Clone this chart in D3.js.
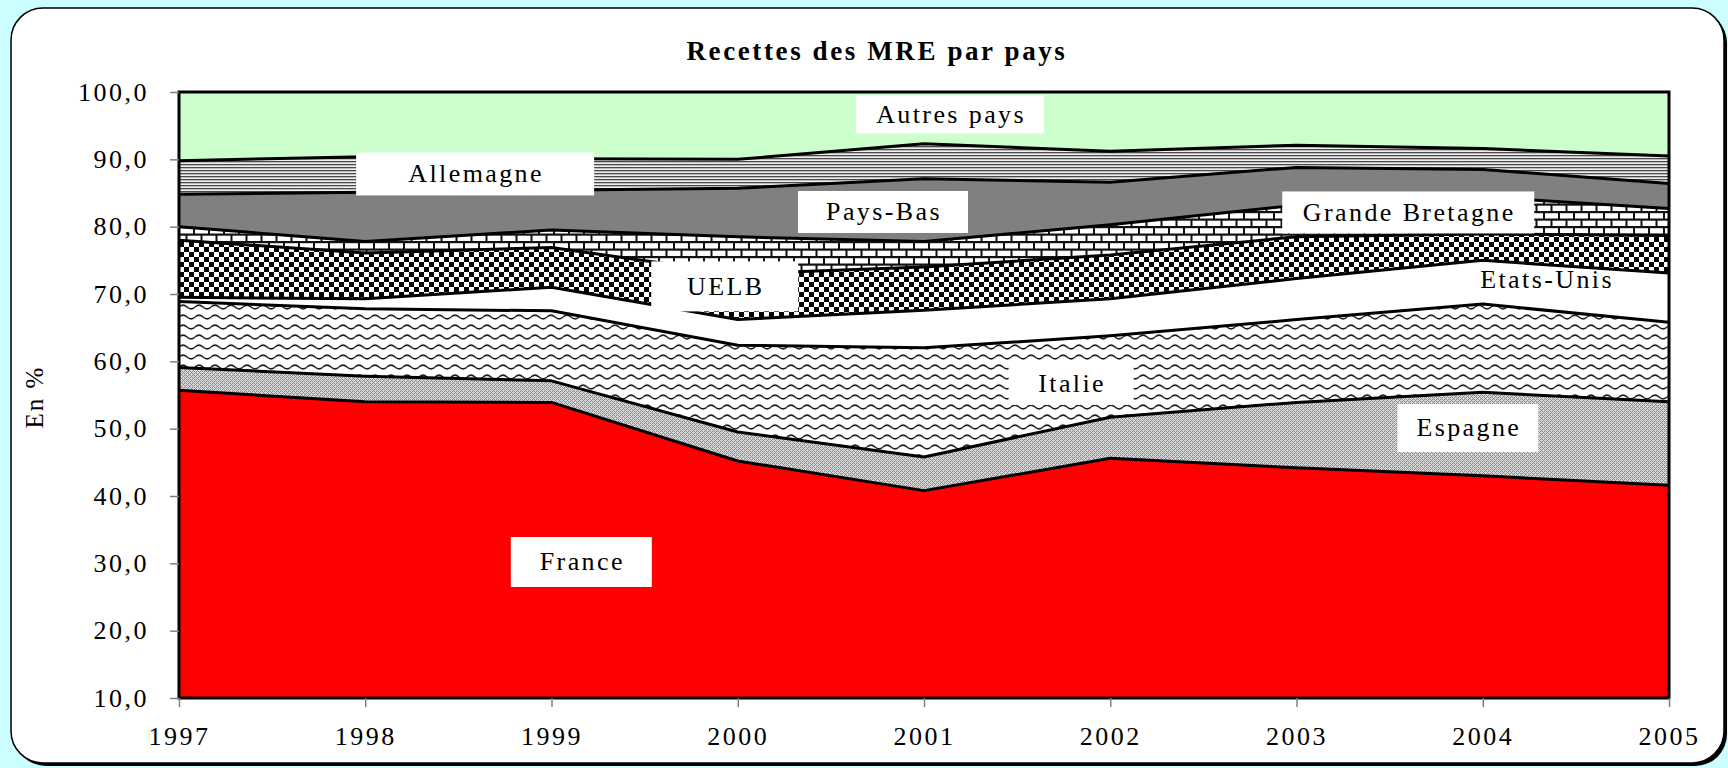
<!DOCTYPE html>
<html lang="fr">
<head>
<meta charset="UTF-8">
<title>Recettes des MRE par pays</title>
<style>
  body { margin: 0; background: #ccffff; }
  svg { display: block; font-family: "Liberation Serif", "Times New Roman", serif; }
</style>
</head>
<body>
<svg width="1728" height="768"></svg>
<script src="https://d3js.org/d3.v7.min.js"></script>
<script>
// parts (en %), stacked from the bottom up
const years          = [1997, 1998, 1999, 2000, 2001, 2002, 2003, 2004, 2005];
const france         = [55.7, 54.0, 53.9, 45.2, 40.8, 45.6, 44.2, 43.0, 41.6];
const espagne        = [3.4, 3.8, 3.2, 4.3, 5.0, 6.1, 9.7, 12.4, 12.4];
const italie         = [9.8, 10.0, 10.4, 12.9, 16.2, 12.1, 12.3, 13.1, 11.8];
const etatsUnis      = [0.6, 1.5, 3.5, 3.8, 5.6, 5.5, 6.1, 6.5, 7.3];
const uelb           = [8.5, 6.8, 5.9, 6.8, 6.4, 6.5, 6.2, 3.9, 5.6];
const grandeBretagne = [2.0, 1.7, 2.6, 5.5, 3.8, 4.5, 4.7, 5.5, 4.0];
const paysBas        = [4.8, 7.3, 5.9, 7.2, 9.3, 6.3, 5.6, 4.1, 3.7];
const allemagne      = [5.0, 5.3, 4.7, 4.3, 5.2, 4.6, 3.3, 3.1, 4.1];
const autres         = [10.2, 9.6, 9.9, 10.0, 7.7, 8.8, 7.9, 8.4, 9.5];
const yTicks = [10, 20, 30, 40, 50, 60, 70, 80, 90, 100];

const series = [
  { key: "France", values: france, fill: "#ff0000" },
  { key: "Espagne", values: espagne, fill: "url(#p-espagne)" },
  { key: "Italie", values: italie, fill: "url(#p-italie)" },
  { key: "Etats-Unis", values: etatsUnis, fill: "#ffffff" },
  { key: "UELB", values: uelb, fill: "url(#p-checker)" },
  { key: "Grande Bretagne", values: grandeBretagne, fill: "url(#p-brick)" },
  { key: "Pays-Bas", values: paysBas, fill: "#808080" },
  { key: "Allemagne", values: allemagne, fill: "url(#p-hlines)" },
  { key: "Autres pays", values: autres, fill: "#ccffcc" }
];

// label anchors in data units (year, %), box size in px
const labels = [
  { text: "Autres pays", yr: 2001.14, v: 96.67, w: 188, h: 38 },
  { text: "Allemagne", yr: 1998.59, v: 87.83, w: 238, h: 43 },
  { text: "Pays-Bas", yr: 2000.78, v: 82.18, w: 170, h: 42 },
  { text: "UELB", yr: 1999.93, v: 71.13, w: 147, h: 50 },
  { text: "Grande Bretagne", yr: 2003.60, v: 82.11, w: 252, h: 42 },
  { text: "Etats-Unis", yr: 2004.34, v: 72.08, w: 0, h: 0 },
  { text: "Italie", yr: 2001.79, v: 56.64, w: 125, h: 42 },
  { text: "Espagne", yr: 2003.92, v: 50.10, w: 141, h: 48 },
  { text: "France", yr: 1999.16, v: 30.20, w: 141, h: 50 }
];

const svg = d3.select("svg");
const margin = { left: 179, top: 92, right: 1728 - 1669, bottom: 768 - 698 };
const width = 1728 - margin.left - margin.right;
const height = 768 - margin.top - margin.bottom;

const defs = svg.append("defs");

// fine grey crosshatch
const pEsp = defs.append("pattern").attr("id", "p-espagne")
  .attr("patternUnits", "userSpaceOnUse").attr("width", 4).attr("height", 4);
pEsp.append("rect").attr("width", 4).attr("height", 4).attr("fill", "#d6d6d6");
[[0, 0], [1, 1], [2, 2], [3, 3], [1, 3], [3, 1]].forEach(([px, py]) => {
  pEsp.append("rect").attr("x", px).attr("y", py).attr("width", 1).attr("height", 1).attr("fill", "#8c8c8c");
});

// waves
const pIt = defs.append("pattern").attr("id", "p-italie")
  .attr("patternUnits", "userSpaceOnUse").attr("width", 16).attr("height", 10);
pIt.append("rect").attr("width", 16).attr("height", 10).attr("fill", "#fff");
pIt.append("path").attr("d", "M0,5 Q4,1.2 8,5 T16,5")
  .attr("fill", "none").attr("stroke", "#222").attr("stroke-width", 1.5);

// large checker board
const pCh = defs.append("pattern").attr("id", "p-checker")
  .attr("patternUnits", "userSpaceOnUse").attr("width", 10).attr("height", 10);
pCh.append("rect").attr("width", 10).attr("height", 10).attr("fill", "#fff");
pCh.append("rect").attr("width", 5).attr("height", 5).attr("fill", "#000");
pCh.append("rect").attr("x", 5).attr("y", 5).attr("width", 5).attr("height", 5).attr("fill", "#000");

// horizontal brick
const pBr = defs.append("pattern").attr("id", "p-brick")
  .attr("patternUnits", "userSpaceOnUse").attr("width", 15).attr("height", 15);
pBr.append("rect").attr("width", 15).attr("height", 15).attr("fill", "#111");
pBr.append("rect").attr("x", 1).attr("y", 1.2).attr("width", 13).attr("height", 5.3).attr("fill", "#fff");
pBr.append("rect").attr("x", 8.5).attr("y", 8.7).attr("width", 13).attr("height", 5.3).attr("fill", "#fff");
pBr.append("rect").attr("x", -6.5).attr("y", 8.7).attr("width", 13).attr("height", 5.3).attr("fill", "#fff");

// narrow horizontal lines
const pHl = defs.append("pattern").attr("id", "p-hlines")
  .attr("patternUnits", "userSpaceOnUse").attr("width", 10).attr("height", 3);
pHl.append("rect").attr("width", 10).attr("height", 3).attr("fill", "#eeeeee");
pHl.append("rect").attr("width", 10).attr("height", 1.3).attr("fill", "#4a4a4a");

defs.append("clipPath").attr("id", "plot-clip")
  .append("rect").attr("width", width).attr("height", height);

// frame with shadow
svg.append("rect").attr("x", 14).attr("y", 11).attr("width", 1713).attr("height", 755)
  .attr("rx", 32).attr("fill", "#000");
svg.append("rect").attr("x", 11).attr("y", 8).attr("width", 1713).attr("height", 755)
  .attr("rx", 32).attr("fill", "#fff").attr("stroke", "#000").attr("stroke-width", 1.5);

const g = svg.append("g").attr("transform", `translate(${margin.left},${margin.top})`);

const x = d3.scaleLinear().domain([years[0], years[years.length - 1]]).range([0, width]);
const y = d3.scaleLinear().domain([10, 100]).range([height, 0]);

const rows = years.map((yr, i) => {
  const r = { year: yr };
  series.forEach(s => { r[s.key] = s.values[i]; });
  return r;
});
const stacked = d3.stack().keys(series.map(s => s.key))(rows);

const area = d3.area()
  .x(d => x(d.data.year))
  .y0(d => y(d[0]))
  .y1(d => y(d[1]));
const topLine = d3.line()
  .x(d => x(d.data.year))
  .y(d => y(d[1]));

const plot = g.append("g").attr("clip-path", "url(#plot-clip)");
plot.selectAll("path.area")
  .data(stacked)
  .join("path")
    .attr("class", "area")
    .attr("d", area)
    .attr("fill", (d, i) => series[i].fill);
plot.selectAll("path.edge")
  .data(stacked.slice(0, -1))
  .join("path")
    .attr("class", "edge")
    .attr("d", topLine)
    .attr("fill", "none")
    .attr("stroke", "#000")
    .attr("stroke-width", 3)
    .attr("stroke-linejoin", "round");

g.append("rect").attr("width", width).attr("height", height)
  .attr("fill", "none").attr("stroke", "#000").attr("stroke-width", 3);

// axes
const fmt = d => d.toFixed(1).replace(".", ",");
const yAxis = g.append("g")
  .call(d3.axisLeft(y).tickValues(yTicks).tickFormat(fmt).tickSize(9).tickPadding(21));
const xAxis = g.append("g").attr("transform", `translate(0,${height})`)
  .call(d3.axisBottom(x).tickValues(years).tickFormat(d3.format("d")).tickSize(9).tickPadding(20));
[yAxis, xAxis].forEach(a => {
  a.attr("font-family", null);
  a.select(".domain").remove();
  a.selectAll(".tick line").attr("stroke", "#808080").attr("stroke-width", 1.5);
  a.selectAll(".tick text")
    .attr("fill", "#000")
    .style("font-family", "'Liberation Serif', serif")
    .style("font-size", "26px")
    .style("letter-spacing", "2.5px");
});

// data labels
const lab = g.append("g").attr("class", "labels");
labels.forEach(l => {
  const cx = x(l.yr), cy = y(l.v);
  if (l.w > 0) {
    lab.append("rect")
      .attr("x", cx - l.w / 2).attr("y", cy - l.h / 2)
      .attr("width", l.w).attr("height", l.h)
      .attr("fill", "#fff");
  }
  lab.append("text")
    .attr("x", cx + 1).attr("y", cy)
    .attr("text-anchor", "middle")
    .attr("dominant-baseline", "central")
    .style("font-size", "26px")
    .style("letter-spacing", "2.4px")
    .text(l.text);
});

// title and y label
svg.append("text")
  .attr("x", 877).attr("y", 60)
  .attr("text-anchor", "middle")
  .style("font-size", "27px").style("font-weight", "bold").style("letter-spacing", "2.6px")
  .text("Recettes des MRE par pays");

svg.append("text")
  .attr("transform", "translate(43,397) rotate(-90)")
  .attr("text-anchor", "middle")
  .style("font-size", "25px").style("letter-spacing", "2px")
  .text("En %");
</script>
</body>
</html>
